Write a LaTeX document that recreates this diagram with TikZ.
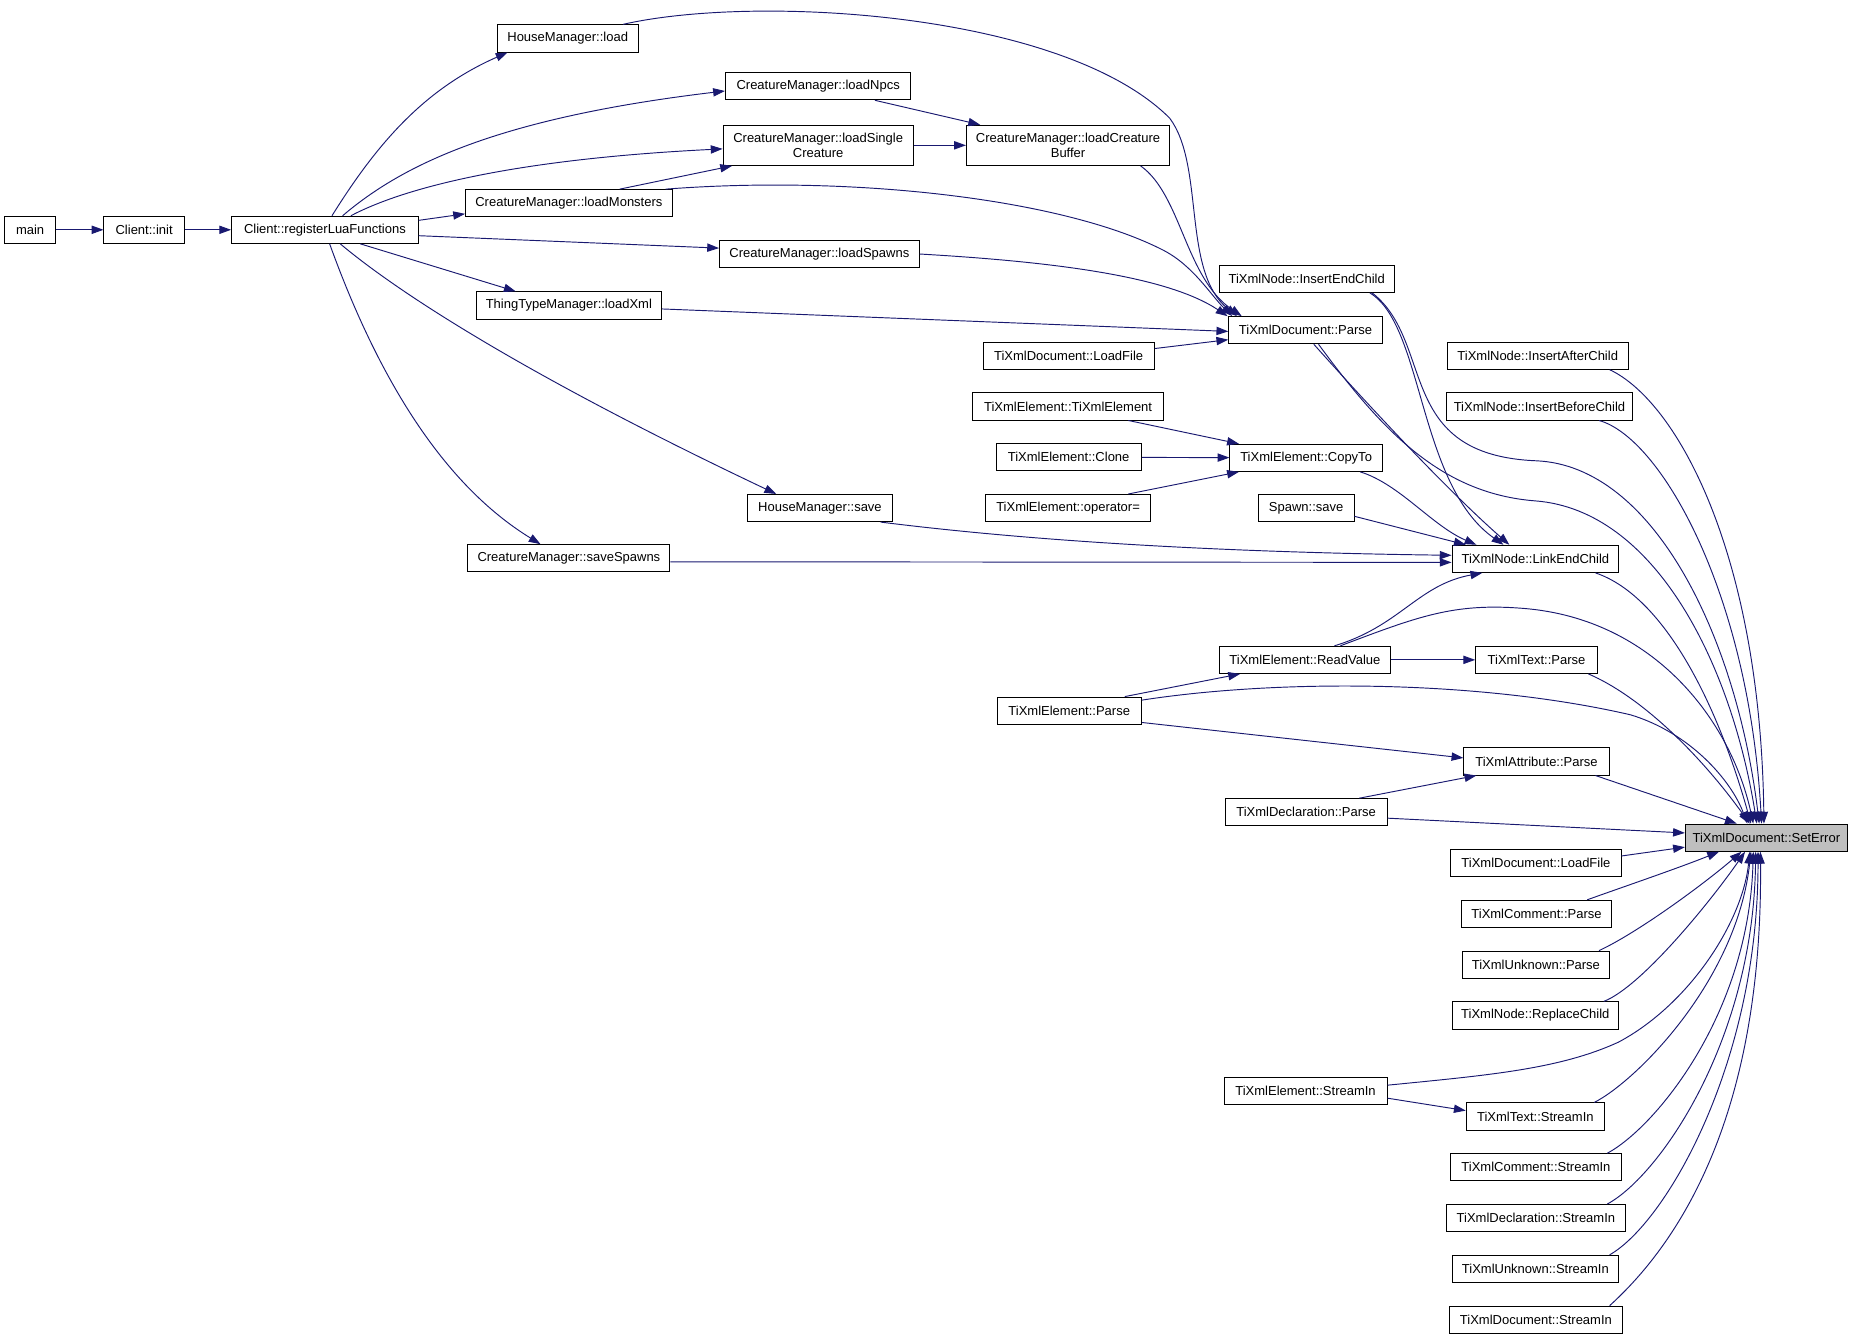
\documentclass[tikz,border=0pt]{standalone}
\usepackage{fontspec}
\setmainfont{Liberation Sans}
\usetikzlibrary{arrows.meta}
\definecolor{callblue}{HTML}{191970}
\definecolor{hilite}{HTML}{BFBFBF}
\tikzset{
  fn/.style={draw=black, fill=white, line width=0.8pt, inner sep=2pt, minimum height=23pt,
    font=\fontsize{11}{12.5}\selectfont, align=center},
  call/.style={draw=callblue, line width=0.8pt, -{Triangle[length=10pt,width=7pt]}},
}

\begin{document}
\begin{tikzpicture}[x=1pt,y=-1pt]
  \useasboundingbox (0,0) rectangle (1565,1131);
  \node[fn, minimum width=43pt] (main) at (25.5,194.5) {main};
  \node[fn, minimum width=68pt] (init) at (122,194.5) {Client::init};
  \node[fn, minimum width=158pt] (reg) at (275,194.5) {Client::registerLuaFunctions};
  \node[fn, minimum width=119pt] (hload) at (480.5,32.5) {HouseManager::load};
  \node[fn, minimum width=157pt] (npcs) at (692.5,73) {CreatureManager::loadNpcs};
  \node[fn, minimum width=161pt, minimum height=34pt] (single) at (692.5,123) {CreatureManager::loadSingle\\Creature};
  \node[fn, minimum width=172pt, minimum height=34pt] (buffer) at (904,123) {CreatureManager::loadCreature\\Buffer};
  \node[fn, minimum width=175pt] (monsters) at (481.5,172) {CreatureManager::loadMonsters};
  \node[fn, minimum width=169pt] (spawns) at (693.5,215) {CreatureManager::loadSpawns};
  \node[fn, minimum width=157pt] (xml) at (481.5,258.5) {ThingTypeManager::loadXml};
  \node[fn, minimum width=122pt] (hsave) at (694,430) {HouseManager::save};
  \node[fn, minimum width=171pt] (savesp) at (481.5,472.5) {CreatureManager::saveSpawns};
  \node[fn, minimum width=148pt] (insend) at (1106,236) {TiXmlNode::InsertEndChild};
  \node[fn, minimum width=130pt] (docparse) at (1105,279.5) {TiXmlDocument::Parse};
  \node[fn, minimum width=145pt] (loadfileA) at (904.5,301) {TiXmlDocument::LoadFile};
  \node[fn, minimum width=162pt] (elemctor) at (904,344) {TiXmlElement::TiXmlElement};
  \node[fn, minimum width=123pt] (clone) at (904.5,387) {TiXmlElement::Clone};
  \node[fn, minimum width=140pt] (opeq) at (904,430) {TiXmlElement::operator=};
  \node[fn, minimum width=129pt] (copyto) at (1105.5,387.5) {TiXmlElement::CopyTo};
  \node[fn, minimum width=81pt] (spsave) at (1105.5,430) {Spawn::save};
  \node[fn, minimum width=141pt] (link) at (1299.5,473) {TiXmlNode::LinkEndChild};
  \node[fn, minimum width=153pt] (insafter) at (1301.5,301) {TiXmlNode::InsertAfterChild};
  \node[fn, minimum width=158pt] (insbefore) at (1303,344) {TiXmlNode::InsertBeforeChild};
  \node[fn, minimum width=145pt] (readval) at (1104.5,558.5) {TiXmlElement::ReadValue};
  \node[fn, minimum width=103pt] (textparse) at (1300.5,558.5) {TiXmlText::Parse};
  \node[fn, minimum width=122pt] (elemparse) at (905,601.5) {TiXmlElement::Parse};
  \node[fn, minimum width=123pt] (attrparse) at (1300.5,644.5) {TiXmlAttribute::Parse};
  \node[fn, minimum width=137pt] (declparse) at (1105.5,687.5) {TiXmlDeclaration::Parse};
  \node[fn, minimum width=137pt, fill=hilite] (seterror) at (1495,709) {TiXmlDocument::SetError};
  \node[fn, minimum width=144pt] (loadfileB) at (1300,730.5) {TiXmlDocument::LoadFile};
  \node[fn, minimum width=127pt] (commparse) at (1300.5,773.5) {TiXmlComment::Parse};
  \node[fn, minimum width=124pt] (unkparse) at (1300,816.5) {TiXmlUnknown::Parse};
  \node[fn, minimum width=141pt] (replace) at (1299.5,859.5) {TiXmlNode::ReplaceChild};
  \node[fn, minimum width=138pt] (elemstream) at (1105,923.5) {TiXmlElement::StreamIn};
  \node[fn, minimum width=117pt] (textstream) at (1299.5,945) {TiXmlText::StreamIn};
  \node[fn, minimum width=144pt] (commstream) at (1300,988) {TiXmlComment::StreamIn};
  \node[fn, minimum width=152pt] (declstream) at (1300,1031) {TiXmlDeclaration::StreamIn};
  \node[fn, minimum width=141pt] (unkstream) at (1299.5,1074) {TiXmlUnknown::StreamIn};
  \node[fn, minimum width=146pt] (docstream) at (1300,1117) {TiXmlDocument::StreamIn};

  \draw[call] (main) -- (init);
  \draw[call] (init) -- (reg);
  \draw[call] ([xshift=6pt]reg.north) .. controls (320,120) and (360,75) .. ([xshift=9pt]hload.south west);
  \draw[call] ([xshift=15pt]reg.north) .. controls (340,140) and (420,100) .. ([yshift=-4pt]npcs.west);
  \draw[call] ([xshift=22pt]reg.north) .. controls (340,160) and (430,135) .. ([yshift=-3pt]single.west);
  \draw[call] ([yshift=8pt]reg.east) -- ([yshift=-9pt]monsters.west);
  \draw[call] ([yshift=-5pt]reg.east) -- ([yshift=5pt]spawns.west);
  \draw[call] ([xshift=30pt]reg.south) -- ([xshift=-45pt]xml.north);
  \draw[call] ([xshift=13pt]reg.south) .. controls (340,250) and (450,320) .. ([xshift=-37pt]hsave.north);
  \draw[call] ([xshift=4pt]reg.south) .. controls (320,320) and (375,410) .. ([xshift=-24pt]savesp.north);

  \draw[call] ([xshift=-13pt]hload.north east) .. controls (640,-5) and (900,10) .. (990,100)
    .. controls (1020,140) and (1000,230) .. ([xshift=-58pt]docparse.north);
  \draw[call] ([xshift=48pt]npcs.south) -- ([xshift=12pt]buffer.north west);
  \draw[call] (single) -- (buffer);
  \draw[call] ([xshift=43pt]monsters.north) -- ([xshift=8pt]single.south west);
  \draw[call] ([xshift=-6pt]monsters.north east) .. controls (720,148) and (900,168) .. (985,212)
    .. controls (1010,225) and (1025,250) .. ([xshift=-62pt]docparse.north);
  \draw[call] ([xshift=-25pt]buffer.south east) .. controls (1000,165) and (1003,235) .. ([xshift=-54pt]docparse.north);
  \draw[call] (spawns.east) .. controls (900,222) and (990,235) .. ([xshift=-66pt]docparse.north);
  \draw[call] ([yshift=-3pt]xml.east) -- ([yshift=-1pt]docparse.west);
  \draw[call] ([yshift=6pt]loadfileA.east) -- ([yshift=-8pt]docparse.west);

  \draw[call] ([xshift=7pt]docparse.south) .. controls (1160,345) and (1225,415) .. ([xshift=-22pt]link.north);
  \draw[call] ([xshift=11pt]docparse.south) .. controls (1170,365) and (1220,418) .. (1300,424)
    .. controls (1400,432) and (1465,560) .. ([xshift=-8pt]seterror.north);
  \draw[call] ([xshift=-21pt]insend.south east) .. controls (1205,275) and (1200,410) .. ([xshift=-27pt]link.north);
  \draw[call] ([xshift=-19pt]insend.south east) .. controls (1215,290) and (1180,385) .. (1300,390)
    .. controls (1400,394) and (1470,540) .. ([xshift=-6pt]seterror.north);
  \draw[call] ([xshift=51pt]elemctor.south) -- ([xshift=8pt]copyto.north west);
  \draw[call] (clone) -- (copyto);
  \draw[call] ([xshift=51pt]opeq.north) -- ([xshift=8pt]copyto.south west);
  \draw[call] ([xshift=-19pt]copyto.south east) .. controls (1185,410) and (1212,445) .. ([xshift=21pt]link.north west);
  \draw[call] ([yshift=-7pt]spsave.east) -- ([xshift=12pt]link.north west);
  \draw[call] ([xshift=-10pt]hsave.south east) .. controls (850,455) and (1000,467) .. ([yshift=3pt]link.west);
  \draw[call] ([yshift=-3pt]savesp.east) -- ([yshift=-3pt]link.west);
  \draw[call] ([xshift=25pt]readval.north) .. controls (1185,530) and (1200,495) .. ([xshift=26pt]link.south west);
  \draw[call] ([xshift=30pt]readval.north) .. controls (1200,522) and (1230,510) .. (1290,515)
    .. controls (1400,524) and (1465,610) .. ([xshift=-11pt]seterror.north);
  \draw[call] (readval) -- (textparse);
  \draw[call] ([xshift=47pt]elemparse.north) -- ([xshift=18pt]readval.south west);
  \draw[call] ([yshift=-3pt]elemparse.north east) .. controls (1080,575) and (1250,575) .. (1380,605)
    .. controls (1430,620) and (1465,660) .. ([xshift=-16pt]seterror.north);
  \draw[call] ([yshift=-10pt]elemparse.east) -- ([yshift=3pt]attrparse.west);
  \draw[call] ([xshift=45pt]declparse.north) -- ([xshift=11pt]attrparse.south west);
  \draw[call] ([yshift=-5pt]declparse.east) -- ([yshift=4pt]seterror.west);
  \draw[call] ([xshift=-12pt]attrparse.south east) -- ([xshift=-25pt]seterror.north);

  \draw[call] ([xshift=-20pt]link.south east) .. controls (1410,505) and (1455,600) .. ([xshift=-13pt]seterror.north);
  \draw[call] ([xshift=-8pt]textparse.south east) .. controls (1390,590) and (1440,640) .. ([xshift=-14pt]seterror.north);
  \draw[call] ([xshift=-16pt]insafter.south east) .. controls (1420,340) and (1490,470) .. ([xshift=-2pt]seterror.north);
  \draw[call] ([xshift=-29pt]insbefore.south east) .. controls (1405,370) and (1480,500) .. ([xshift=-4pt]seterror.north);

  \draw[call] ([yshift=6pt]loadfileB.east) -- ([yshift=-8pt]seterror.west);
  \draw[call] ([xshift=-21pt]commparse.north east) .. controls (1370,752) and (1420,735) .. ([xshift=-40pt]seterror.south);
  \draw[call] ([xshift=-9pt]unkparse.north east) .. controls (1385,790) and (1440,750) .. ([xshift=-21pt]seterror.south);
  \draw[call] ([xshift=-13pt]replace.north east) .. controls (1390,835) and (1450,760) .. ([xshift=-18pt]seterror.south);
  \draw[call] ([yshift=5pt]elemstream.east) .. controls (1260,910) and (1320,905) .. (1370,882)
    .. controls (1430,850) and (1475,780) .. ([xshift=-14pt]seterror.south);
  \draw[call] ([yshift=-6pt]elemstream.east) -- ([yshift=5pt]textstream.west);
  \draw[call] ([xshift=-9pt]textstream.north east) .. controls (1385,915) and (1470,830) .. ([xshift=-13pt]seterror.south);
  \draw[call] ([xshift=-12pt]commstream.north east) .. controls (1400,955) and (1480,860) .. ([xshift=-11pt]seterror.south);
  \draw[call] ([xshift=-16pt]declstream.north east) .. controls (1405,995) and (1484,880) .. ([xshift=-9pt]seterror.south);
  \draw[call] ([xshift=-8pt]unkstream.north east) .. controls (1410,1035) and (1488,900) .. ([xshift=-7pt]seterror.south);
  \draw[call] ([xshift=-11pt]docstream.north east) .. controls (1432,1042) and (1492,927) .. ([xshift=-5pt]seterror.south);
\end{tikzpicture}
\end{document}
